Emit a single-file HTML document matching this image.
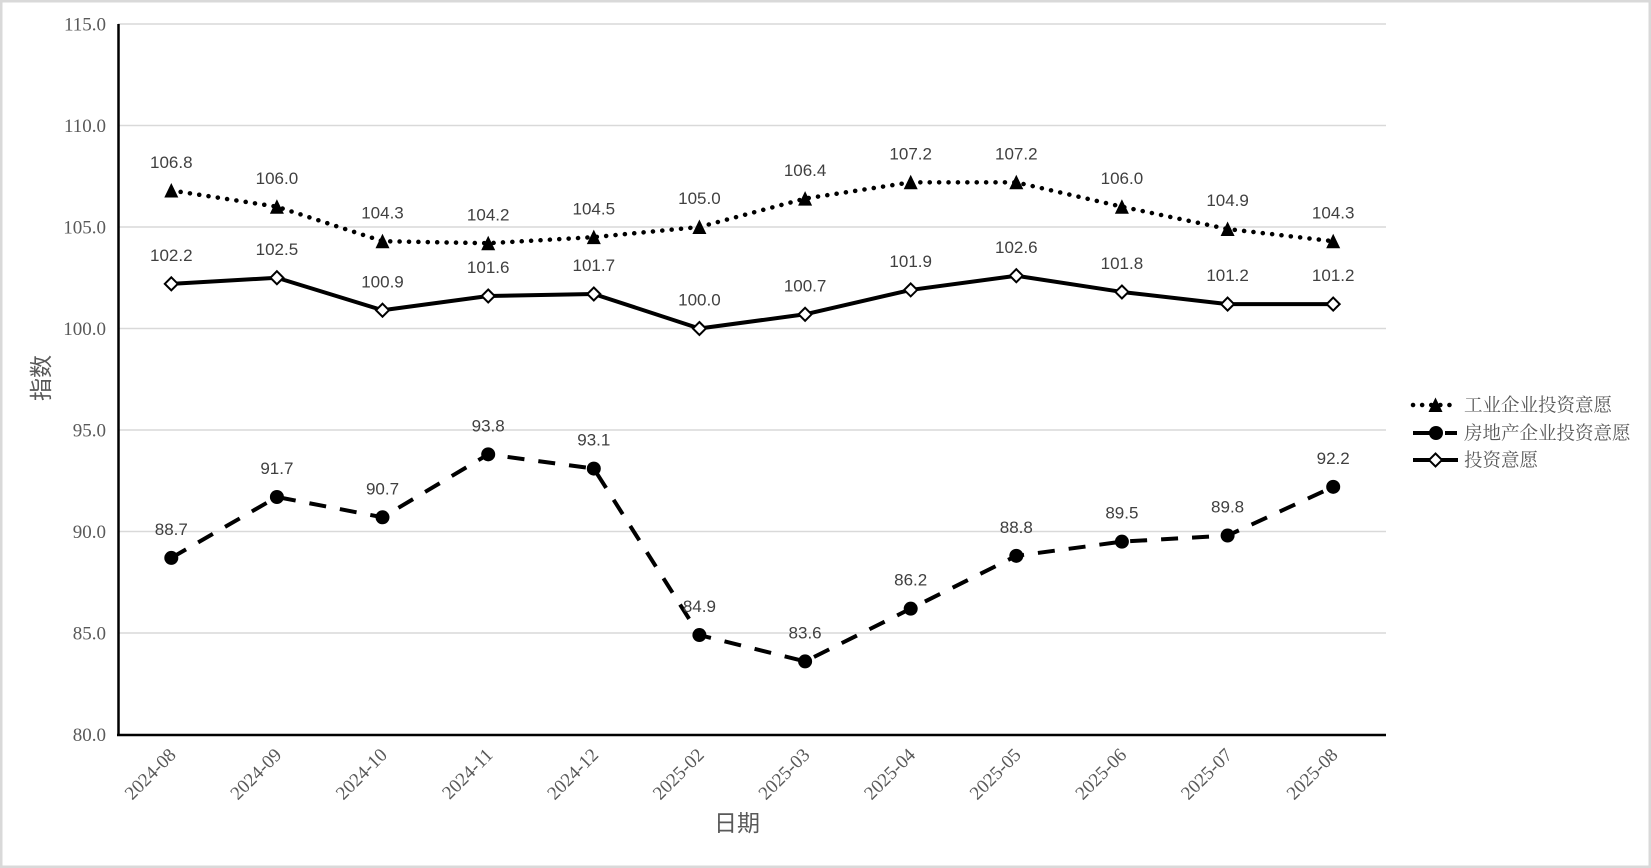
<!DOCTYPE html>
<html><head><meta charset="utf-8"><style>
html,body{margin:0;padding:0;background:#fff;}
svg{display:block;}
</style></head><body>
<svg width="1651" height="868" viewBox="0 0 1651 868" xmlns="http://www.w3.org/2000/svg">
<rect x="1.25" y="1.25" width="1648.5" height="865.5" fill="#fff" stroke="#d9d9d9" stroke-width="2.5"/>
<g stroke="#d9d9d9" stroke-width="1.5">
<line x1="118" y1="24" x2="1386" y2="24"/>
<line x1="118" y1="125.5" x2="1386" y2="125.5"/>
<line x1="118" y1="227" x2="1386" y2="227"/>
<line x1="118" y1="328.5" x2="1386" y2="328.5"/>
<line x1="118" y1="430" x2="1386" y2="430"/>
<line x1="118" y1="531.5" x2="1386" y2="531.5"/>
<line x1="118" y1="633" x2="1386" y2="633"/>
</g>
<g stroke="#000" stroke-width="2.5">
<line x1="118.5" y1="24" x2="118.5" y2="735"/>
<line x1="117" y1="735" x2="1386" y2="735"/>
</g>
<g font-family="'Liberation Serif', serif" font-size="19" fill="#595959" text-anchor="end">
<text x="106" y="30.5">115.0</text>
<text x="106" y="132">110.0</text>
<text x="106" y="233.5">105.0</text>
<text x="106" y="335">100.0</text>
<text x="106" y="436.5">95.0</text>
<text x="106" y="538">90.0</text>
<text x="106" y="639.5">85.0</text>
<text x="106" y="741">80.0</text>
</g>
<g font-family="'Liberation Serif', serif" font-size="19" fill="#595959" text-anchor="end">
<text transform="translate(177,756) rotate(-45)">2024-08</text>
<text transform="translate(282.6,756) rotate(-45)">2024-09</text>
<text transform="translate(388.2,756) rotate(-45)">2024-10</text>
<text transform="translate(493.9,756) rotate(-45)">2024-11</text>
<text transform="translate(599.5,756) rotate(-45)">2024-12</text>
<text transform="translate(705.1,756) rotate(-45)">2025-02</text>
<text transform="translate(810.8,756) rotate(-45)">2025-03</text>
<text transform="translate(916.4,756) rotate(-45)">2025-04</text>
<text transform="translate(1022,756) rotate(-45)">2025-05</text>
<text transform="translate(1127.6,756) rotate(-45)">2025-06</text>
<text transform="translate(1233.3,756) rotate(-45)">2025-07</text>
<text transform="translate(1338.9,756) rotate(-45)">2025-08</text>
</g>
<text transform="translate(49,378) rotate(-90)" font-family="'Liberation Sans', 'Noto Sans CJK SC', sans-serif" font-size="23" fill="#595959" text-anchor="middle">指数</text>
<text x="737" y="831" font-family="'Liberation Sans', 'Noto Sans CJK SC', sans-serif" font-size="23" fill="#595959" text-anchor="middle">日期</text>

<polyline fill="none" stroke="#000" stroke-width="4.5" stroke-linecap="round" stroke-dasharray="0.1 9.3" points="171.3,190.46 276.9,206.7 382.5,241.21 488.2,243.24 593.8,237.15 699.4,227 805.1,198.58 910.7,182.34 1016.3,182.34 1121.9,206.7 1227.6,229.03 1333.2,241.21"/>
<polyline fill="none" stroke="#000" stroke-width="4" stroke-linejoin="round" points="171.3,283.84 276.9,277.75 382.5,310.23 488.2,296.02 593.8,293.99 699.4,328.5 805.1,314.29 910.7,289.93 1016.3,275.72 1121.9,291.96 1227.6,304.14 1333.2,304.14"/>
<polyline fill="none" stroke="#000" stroke-width="4" stroke-dasharray="17 14" points="171.3,557.89 276.9,496.99 382.5,517.29 488.2,454.36 593.8,468.57 699.4,635.03 805.1,661.42 910.7,608.64 1016.3,555.86 1121.9,541.65 1227.6,535.56 1333.2,486.84"/>

<g fill="#000">
<polygon points="171.3,183 164.3,197.5 178.3,197.5"/>
<polygon points="276.9,199.2 269.9,213.7 283.9,213.7"/>
<polygon points="382.5,233.7 375.5,248.2 389.5,248.2"/>
<polygon points="488.2,235.7 481.2,250.2 495.2,250.2"/>
<polygon points="593.8,229.6 586.8,244.1 600.8,244.1"/>
<polygon points="699.4,219.5 692.4,234 706.4,234"/>
<polygon points="805.1,191.1 798.1,205.6 812.1,205.6"/>
<polygon points="910.7,174.8 903.7,189.3 917.7,189.3"/>
<polygon points="1016.3,174.8 1009.3,189.3 1023.3,189.3"/>
<polygon points="1121.9,199.2 1114.9,213.7 1128.9,213.7"/>
<polygon points="1227.6,221.5 1220.6,236 1234.6,236"/>
<polygon points="1333.2,233.7 1326.2,248.2 1340.2,248.2"/>
</g>
<g fill="#000">
<circle cx="171.3" cy="557.89" r="7"/>
<circle cx="276.9" cy="496.99" r="7"/>
<circle cx="382.5" cy="517.29" r="7"/>
<circle cx="488.2" cy="454.36" r="7"/>
<circle cx="593.8" cy="468.57" r="7"/>
<circle cx="699.4" cy="635.03" r="7"/>
<circle cx="805.1" cy="661.42" r="7"/>
<circle cx="910.7" cy="608.64" r="7"/>
<circle cx="1016.3" cy="555.86" r="7"/>
<circle cx="1121.9" cy="541.65" r="7"/>
<circle cx="1227.6" cy="535.56" r="7"/>
<circle cx="1333.2" cy="486.84" r="7"/>
</g>
<g fill="#fff" stroke="#000" stroke-width="2">
<polygon points="171.3,277.3 177.8,283.84 171.3,290.3 164.8,283.84"/>
<polygon points="276.9,271.2 283.4,277.75 276.9,284.2 270.4,277.75"/>
<polygon points="382.5,303.7 389,310.23 382.5,316.7 376,310.23"/>
<polygon points="488.2,289.5 494.7,296.02 488.2,302.5 481.7,296.02"/>
<polygon points="593.8,287.5 600.3,293.99 593.8,300.5 587.3,293.99"/>
<polygon points="699.4,322 705.9,328.5 699.4,335 692.9,328.5"/>
<polygon points="805.1,307.8 811.6,314.29 805.1,320.8 798.6,314.29"/>
<polygon points="910.7,283.4 917.2,289.93 910.7,296.4 904.2,289.93"/>
<polygon points="1016.3,269.2 1022.8,275.72 1016.3,282.2 1009.8,275.72"/>
<polygon points="1121.9,285.5 1128.4,291.96 1121.9,298.5 1115.4,291.96"/>
<polygon points="1227.6,297.6 1234.1,304.14 1227.6,310.6 1221.1,304.14"/>
<polygon points="1333.2,297.6 1339.7,304.14 1333.2,310.6 1326.7,304.14"/>
</g>

<g font-family="'Liberation Sans', sans-serif" font-size="17" fill="#404040" text-anchor="middle">
<text x="171.3" y="168">106.8</text>
<text x="276.9" y="184">106.0</text>
<text x="382.5" y="218.5">104.3</text>
<text x="488.2" y="220.5">104.2</text>
<text x="593.8" y="214.5">104.5</text>
<text x="699.4" y="204">105.0</text>
<text x="805.1" y="176">106.4</text>
<text x="910.7" y="159.5">107.2</text>
<text x="1016.3" y="159.5">107.2</text>
<text x="1121.9" y="184">106.0</text>
<text x="1227.6" y="206">104.9</text>
<text x="1333.2" y="218.5">104.3</text>

<text x="171.3" y="261">102.2</text>
<text x="276.9" y="255">102.5</text>
<text x="382.5" y="287.5">100.9</text>
<text x="488.2" y="273">101.6</text>
<text x="593.8" y="271">101.7</text>
<text x="699.4" y="305.5">100.0</text>
<text x="805.1" y="291.5">100.7</text>
<text x="910.7" y="267">101.9</text>
<text x="1016.3" y="253">102.6</text>
<text x="1121.9" y="269">101.8</text>
<text x="1227.6" y="281">101.2</text>
<text x="1333.2" y="281">101.2</text>

<text x="171.3" y="535">88.7</text>
<text x="276.9" y="474">91.7</text>
<text x="382.5" y="494.5">90.7</text>
<text x="488.2" y="431.5">93.8</text>
<text x="593.8" y="445.5">93.1</text>
<text x="699.4" y="612">84.9</text>
<text x="805.1" y="638.5">83.6</text>
<text x="910.7" y="585.5">86.2</text>
<text x="1016.3" y="533">88.8</text>
<text x="1121.9" y="518.5">89.5</text>
<text x="1227.6" y="512.5">89.8</text>
<text x="1333.2" y="464">92.2</text>
</g>

<line x1="1413" y1="405" x2="1458" y2="405" stroke="#000" stroke-width="4.5" stroke-linecap="round" stroke-dasharray="0.1 9"/>
<polygon points="1435.5,397.5 1428.5,412 1442.5,412" fill="#000"/>
<line x1="1413" y1="433" x2="1430" y2="433" stroke="#000" stroke-width="4"/>
<line x1="1445" y1="433" x2="1457" y2="433" stroke="#000" stroke-width="4"/>
<circle cx="1436" cy="433" r="7" fill="#000"/>
<line x1="1413" y1="460" x2="1458" y2="460" stroke="#000" stroke-width="4"/>
<polygon points="1435.5,453.5 1442,460 1435.5,466.5 1429,460" fill="#fff" stroke="#000" stroke-width="2"/>
<g font-family="'Liberation Serif', 'Noto Serif CJK SC', serif" font-size="18.5" fill="#595959">
<text x="1464" y="411.5">工业企业投资意愿</text>
<text x="1464" y="439.5">房地产企业投资意愿</text>
<text x="1464" y="466.5">投资意愿</text>
</g>
</svg>
</body></html>
